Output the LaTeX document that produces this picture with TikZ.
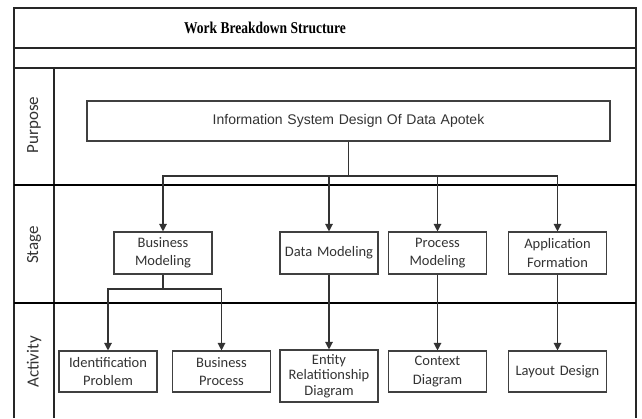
\documentclass[tikz,border=0pt]{standalone}
\usepackage{fontspec}
\setmainfont{Carlito}
\newfontfamily\titlefont{Liberation Serif}
\newfontfamily\arialfont{Liberation Sans}
\usetikzlibrary{arrows.meta}
\begin{document}
\begin{tikzpicture}[x=1pt,y=-1pt,
  frame/.style={line width=1.4pt,draw=black!85},
  lane/.style={line width=1.8pt,draw=black},
  box/.style={draw=black!75,line width=1.1pt,minimum width=98pt,minimum height=42pt,
    inner sep=0pt,align=center,text width=96pt,font=\fontsize{14.5}{18.5}\selectfont,text=black!80},
  lanelabel/.style={rotate=90,font=\fontsize{17}{19}\selectfont,text=black!80},
  conn/.style={line width=1.2pt,draw=black!80},
  arr/.style={conn,-{Triangle[width=7.5pt,length=7.5pt]}}]
\useasboundingbox (0,0) rectangle (642,418);
\fill[white] (0,0) rectangle (642,418);
% frame
\draw[frame] (14,418) -- (14,8) -- (636,8) -- (636,418);
\draw[frame] (14,48) -- (636,48);
\draw[frame] (14,68) -- (636,68);
\draw[frame] (54,68) -- (54,418);
\draw[lane] (14,185) -- (636,185);
\draw[lane] (14,303) -- (636,303);
% title
\node[font=\titlefont\bfseries\fontsize{16.5}{18}\selectfont] (title) at (265,28) {\scalebox{0.82}[1]{Work Breakdown Structure}};
% lane labels
\node[lanelabel] (lp) at (34,125) {Purpose};
\node[lanelabel] (ls) at (34,245) {Stage};
\node[lanelabel] (la) at (34,362) {Activity};
% purpose
\node[box,minimum width=523pt,text width=500pt,minimum height=40pt,font=\arialfont\fontsize{14}{17}\selectfont] (info) at (348.5,121) {Information System Design Of Data Apotek};
% stage
\node[box] (bm) at (163,253) {Business\\Modeling};
\node[box] (dm) at (329,253) {Data Modeling};
\node[box] (pm) at (437.5,253) {Process\\Modeling};
\node[box] (af) at (557.5,253) {Application\\Formation};
% activity
\node[box,minimum height=41pt] (ip) at (108,371.5) {Identification\\Problem};
\node[box,minimum height=41pt] (bp) at (221.5,371.5) {Business\\Process};
\node[box,minimum height=52pt,font=\fontsize{14.5}{15.5}\selectfont] (erd) at (329,376) {Entity\\Relatitionship\\Diagram};
\node[box,minimum height=41pt] (cd) at (437.5,371.5) {Context\\Diagram};
\node[box,minimum height=41pt] (ld) at (557.5,371.5) {Layout Design};
% connectors
\coordinate (j1) at (348.5,176);
\draw[conn] (info.south) -- (j1);
\draw[arr] (j1) -| (bm.north);
\draw[arr] (j1) -| (dm.north);
\draw[arr] (j1) -| (pm.north);
\draw[arr] (j1) -| (af.north);
\coordinate (j2) at (163,289);
\draw[conn] (bm.south) -- (j2);
\draw[arr] (j2) -| (ip.north);
\draw[arr] (j2) -| (bp.north);
\draw[arr] (dm.south) -- (erd.north);
\draw[arr] (pm.south) -- (cd.north);
\draw[arr] (af.south) -- (ld.north);
\end{tikzpicture}
\end{document}
